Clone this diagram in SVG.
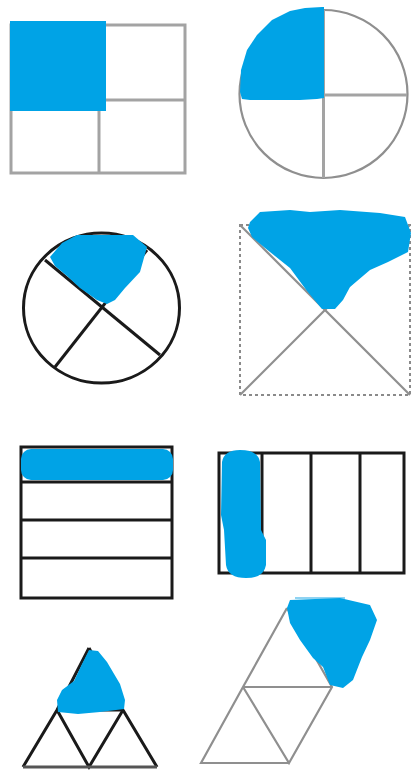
<svg xmlns="http://www.w3.org/2000/svg" width="414" height="778" viewBox="0 0 414 778">
<style>
.blue{fill:#00a3e6;stroke:none}
.gray{fill:none;stroke:#a3a3a3;stroke-width:3}
.grayThin{fill:none;stroke:#8f8f8f;stroke-width:2.2}
.black{fill:none;stroke:#1a1a1a;stroke-width:3}
.dash{fill:none;stroke:#8a8a8a;stroke-width:2;stroke-dasharray:3 3}
</style>
<rect width="414" height="778" fill="#ffffff"/>

<g id="square-quarters">
  <rect class="gray" x="11" y="25" width="174" height="148"/>
  <line class="gray" x1="99" y1="25" x2="99" y2="173"/>
  <line class="gray" x1="11" y1="100" x2="185" y2="100"/>
  <rect class="blue" x="10" y="21" width="96" height="90"/>
</g>

<g id="circle-quarters">
  <circle class="grayThin" cx="323.5" cy="94" r="84"/>
  <line class="gray" x1="323.5" y1="10" x2="323.5" y2="178"/>
  <line class="gray" x1="323.5" y1="95" x2="407" y2="95"/>
  <path class="blue" d="M322,7 L324,7 L324,98 L317,99 L300,100 L250,100 L242,99 L240,92 L241,70 L247,50 L257,35 L272,20 L290,11 L305,8 Z"/>
</g>

<g id="circle-x">
  <ellipse class="black" cx="101.5" cy="308" rx="78" ry="75"/>
  <line class="black" x1="45" y1="260" x2="160" y2="355"/>
  <line class="black" x1="147" y1="250" x2="55" y2="367"/>
  <path class="blue" d="M50,257 L62,243 L77,235 L133,235 L147,247 L140,272 L125,288 L115,300 L107,304 L97,300 L80,288 L67,276 L55,266 Z"/>
</g>

<g id="square-x">
  <rect class="dash" x="240" y="225" width="170" height="170"/>
  <line class="grayThin" x1="240" y1="225" x2="410" y2="395"/>
  <line class="grayThin" x1="410" y1="225" x2="240" y2="395"/>
  <path class="blue" d="M250,222 L260,212 L290,210 L310,212 L340,210 L380,213 L405,217 L411,233 L408,252 L388,262 L370,270 L350,287 L343,300 L335,309 L322,309 L307,291 L290,268 L265,248 L252,237 L248,228 Z"/>
</g>

<g id="rect-rows">
  <rect class="black" x="21" y="447" width="151" height="151"/>
  <line class="black" x1="21" y1="482" x2="172" y2="482"/>
  <line class="black" x1="21" y1="520" x2="172" y2="520"/>
  <line class="black" x1="21" y1="558" x2="172" y2="558"/>
  <rect class="blue" x="21" y="449" width="152" height="31" rx="10"/>
</g>

<g id="rect-columns">
  <rect class="black" x="219" y="453" width="185" height="120"/>
  <line class="black" x1="262" y1="453" x2="262" y2="573"/>
  <line class="black" x1="311" y1="453" x2="311" y2="573"/>
  <line class="black" x1="360" y1="453" x2="360" y2="573"/>
  <path class="blue" d="M222,462 Q224,450 240,450 Q258,450 260,462 L261,530 L266,540 L266,565 Q264,578 246,578 Q228,578 226,565 L224,530 L221,515 Z"/>
  <line x1="295" y1="598" x2="345" y2="598" stroke="#8fd3f2" stroke-width="2"/>
</g>

<g id="triangle-small">
  <polyline class="black" points="89,648 57,710 23,767"/>
  <polyline class="black" points="89,648 123,710 157,767"/>
  <polyline class="black" points="57,710 89,767 123,710"/>
  <line class="black" x1="57" y1="710" x2="123" y2="710"/>
  <line x1="23" y1="767" x2="157" y2="767" stroke="#555" stroke-width="3"/>
  <path class="blue" d="M89,650 L98,651 L107,662 L120,684 L125,700 L124,709 L100,712 L78,714 L58,712 L57,700 L62,690 L74,681 L82,664 Z"/>
</g>

<g id="parallelogram">
  <polyline class="grayThin" points="287,608 243,687 201,763 289,763"/>
  <line class="grayThin" x1="243" y1="687" x2="332" y2="687"/>
  <polyline class="grayThin" points="243,687 289,763 332,687 287,608"/>
  <path class="blue" d="M290,600 L340,598 L370,605 L377,620 L370,640 L362,657 L353,680 L343,688 L330,685 L323,667 L313,658 L300,640 L290,623 L287,608 Z"/>
</g>
</svg>
